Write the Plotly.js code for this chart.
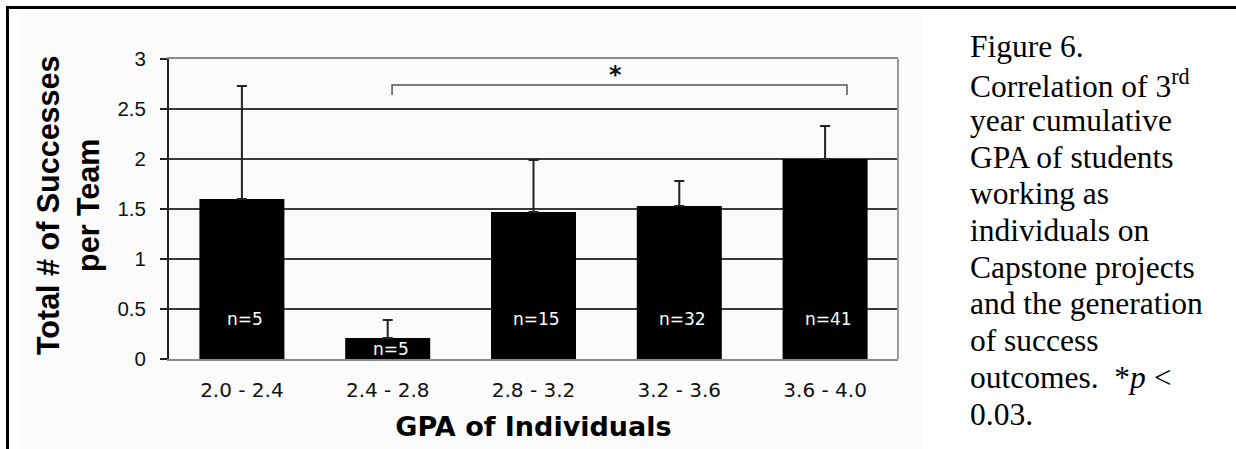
<!DOCTYPE html>
<html>
<head>
<meta charset="utf-8">
<script src="https://cdn.plot.ly/plotly-3.0.1.min.js"></script>
<style>html,body{margin:0;padding:0;background:#fff;}#chart{width:1236px;height:449px;}</style>
</head>
<body>
<div id="chart"></div>
<script>
// ---- data ----
const categories = ['2.0 - 2.4', '2.4 - 2.8', '2.8 - 3.2', '3.2 - 3.6', '3.6 - 4.0'];
const meanSuccesses = [1.60, 0.21, 1.47, 1.53, 2.00];
const errorPlus = [1.13, 0.18, 0.52, 0.25, 0.33];
const errorMinus = [0, 0, 0, 0, 0];
const nLabels = ['n=5', 'n=5', 'n=15', 'n=32', 'n=41'];
const yTickVals = [0, 0.5, 1, 1.5, 2, 2.5, 3];
const yTickText = ['0', '0.5', '1', '1.5', '2', '2.5', '3'];
const sigFromIndex = 1;
const sigToIndex = 4;
const sigLevel = 2.74;
const sigLabel = '*';
const captionLines = [
  'Figure 6.',
  'Correlation of 3<sup>rd</sup>',
  'year cumulative',
  'GPA of students',
  'working as',
  'individuals on',
  'Capstone projects',
  'and the generation',
  'of success',
  'outcomes.&nbsp;&nbsp;*<i>p</i> &lt;',
  '0.03.'
];

// ---- layout geometry ----
const W = 1236, H = 449;
const M = {l: 169, r: 338, t: 59, b: 90};
const PW = W - M.l - M.r, PH = H - M.t - M.b;
const px2x = p => (p - M.l) / PW;
const px2y = p => (H - M.b - p) / PH;

const trace = {
  type: 'bar',
  x: categories,
  y: meanSuccesses,
  marker: {color: '#000000', line: {width: 0}},
  error_y: {
    type: 'data', symmetric: false, array: errorPlus, arrayminus: errorMinus,
    color: '#222222', thickness: 2, width: 5
  },
  hoverinfo: 'x+y',
  showlegend: false
};

const annotations = [];
// n labels inside bars
categories.forEach((c, i) => {
  annotations.push({
    x: c, y: Math.min(0.4, meanSuccesses[i] / 2), xref: 'x', yref: 'y',
    text: nLabels[i], showarrow: false, xshift: 3,
    font: {family: 'DejaVu Sans, Verdana, sans-serif', size: 17, color: '#ffffff'},
    xanchor: 'center', yanchor: 'middle'
  });
});
// significance star
annotations.push({
  x: (sigFromIndex + sigToIndex) / 2 + 0.06, y: sigLevel + 0.1, xref: 'x', yref: 'y',
  text: sigLabel, showarrow: false,
  font: {family: 'DejaVu Sans, sans-serif', size: 24, color: '#111', weight: 'bold'},
  xanchor: 'center', yanchor: 'middle'
});
// caption lines
captionLines.forEach((t, i) => {
  const baseline = 57 + 36.7 * i;
  annotations.push({
    x: px2x(968), y: px2y(baseline - 10), xref: 'paper', yref: 'paper',
    text: t, showarrow: false, align: 'left',
    xanchor: 'left', yanchor: 'middle',
    font: {family: 'Liberation Serif, Times New Roman, serif', size: 31.5, color: '#000'}
  });
});
// y title as two-line annotation
annotations.push({
  x: px2x(68), y: px2y(206), xref: 'paper', yref: 'paper',
  text: '<b>Total # of Successes<br>per Team</b>', showarrow: false,
  textangle: -90, xanchor: 'center', yanchor: 'middle',
  font: {family: 'Liberation Sans, Arial, sans-serif', size: 30.5, color: '#000'}
});

const shapes = [
  // light chart background region
  {type: 'rect', xref: 'paper', yref: 'paper', x0: px2x(20), x1: px2x(922), y0: px2y(12), y1: px2y(449),
   fillcolor: '#fbfbfb', line: {width: 0}, layer: 'below'},
  // outer frame lines
  {type: 'line', xref: 'paper', yref: 'paper', x0: px2x(6), x1: px2x(1236), y0: px2y(7.5), y1: px2y(7.5),
   line: {color: '#000', width: 3}},
  {type: 'line', xref: 'paper', yref: 'paper', x0: px2x(7.5), x1: px2x(7.5), y0: px2y(6), y1: px2y(449),
   line: {color: '#000', width: 3}},
  // right border of plot
  {type: 'line', xref: 'paper', yref: 'paper', x0: 1, x1: 1, y0: 0, y1: 1,
   line: {color: '#9a9a9a', width: 2}},
  // significance bracket
  {type: 'path', xref: 'x', yref: 'y',
   path: `M ${sigFromIndex + 0.03},${sigLevel - 0.1} L ${sigFromIndex + 0.03},${sigLevel} L ${sigToIndex + 0.15},${sigLevel} L ${sigToIndex + 0.15},${sigLevel - 0.1}`,
   line: {color: '#555', width: 1.5}}
];

const layout = {
  width: W, height: H,
  margin: M,
  paper_bgcolor: '#ffffff',
  plot_bgcolor: '#ffffff',
  bargap: 0.417,
  xaxis: {
    type: 'category',
    range: [-0.5, 4.5],
    showgrid: false, zeroline: false,
    showline: true, linecolor: '#8a8a8a', linewidth: 2, mirror: true,
    ticks: '', ticklabelstandoff: 12,
    tickfont: {family: 'DejaVu Sans, Verdana, sans-serif', size: 20, color: '#111'},
    title: {text: '<b>GPA of Individuals</b>', standoff: 16,
            font: {family: 'DejaVu Sans, Verdana, sans-serif', size: 27, color: '#000'}},
    automargin: false
  },
  yaxis: {
    range: [0, 3],
    tickvals: yTickVals, ticktext: yTickText,
    showgrid: true, gridcolor: '#3a3a3a', gridwidth: 2,
    zeroline: false,
    showline: true, linecolor: '#222', linewidth: 2,
    ticks: 'outside', ticklen: 7, tickwidth: 2, tickcolor: '#222',
    ticklabelstandoff: 10,
    tickfont: {family: 'Liberation Sans, Arial, sans-serif', size: 20.5, color: '#111'},
    automargin: false
  },
  annotations: annotations,
  shapes: shapes,
  showlegend: false
};

Plotly.newPlot('chart', [trace], layout, {displayModeBar: false, staticPlot: true});
</script>
</body>
</html>
